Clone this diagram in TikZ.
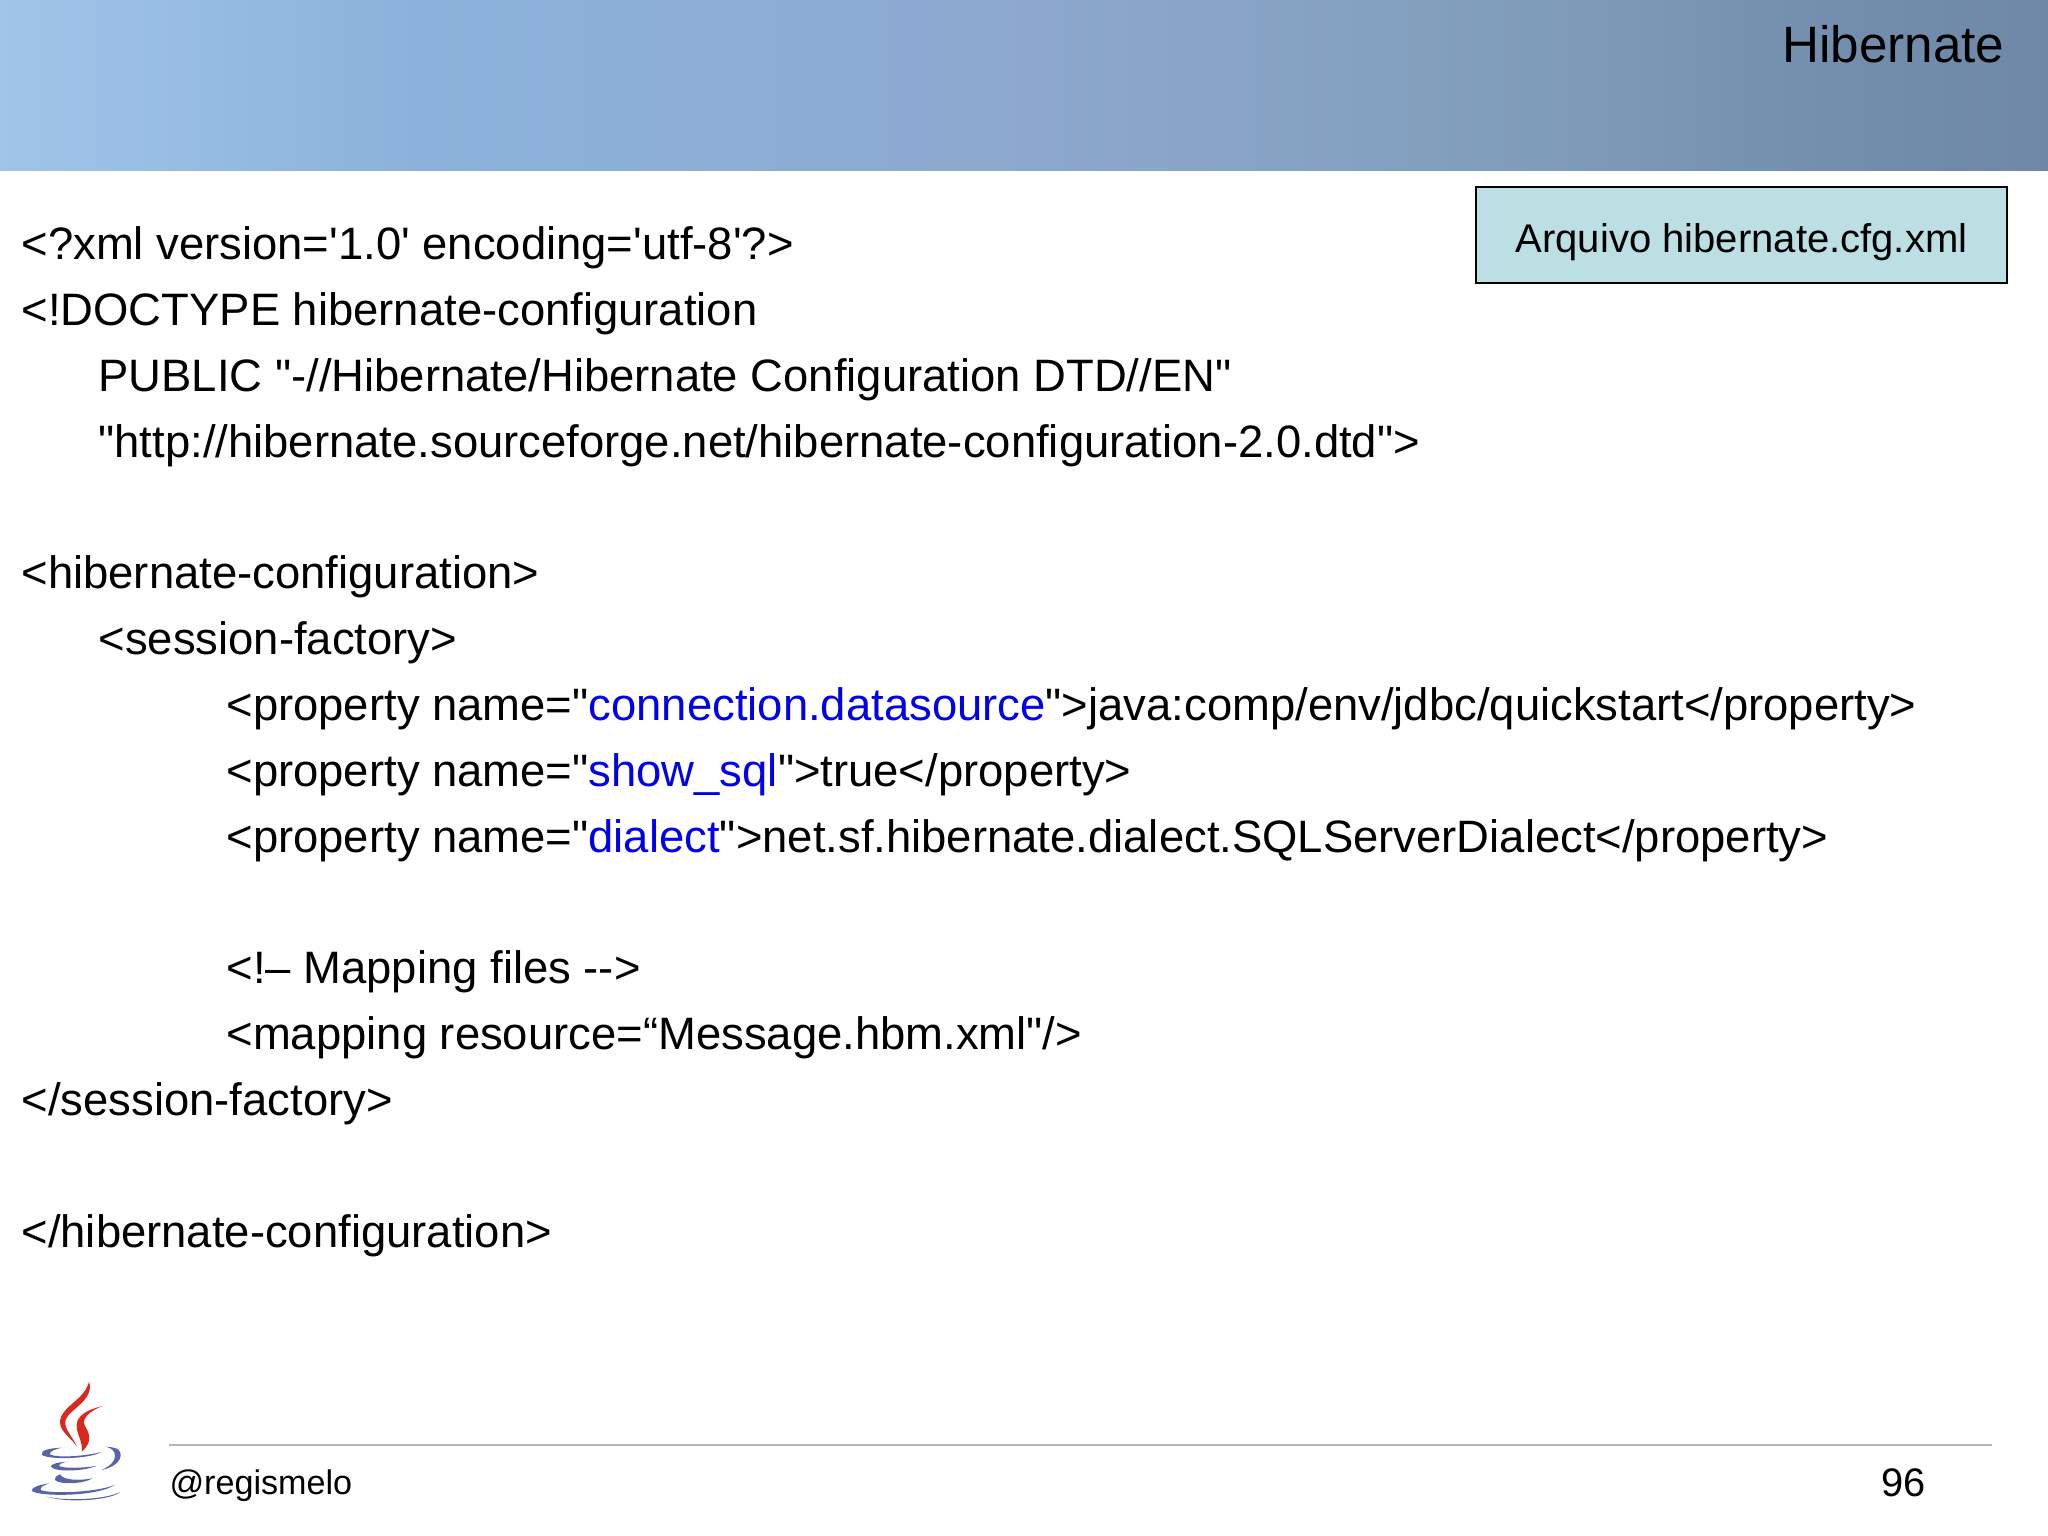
\documentclass[tikz,border=0pt]{standalone}
\usepackage{fontspec}
\setmainfont{Liberation Sans}[Ligatures=TeXOff]
\definecolor{boxfill}{RGB}{187,223,227}
\definecolor{keyblue}{RGB}{0,0,235}
\definecolor{rulegray}{RGB}{182,182,182}
\definecolor{flamered}{RGB}{218,40,28}
\definecolor{cupblue}{RGB}{88,100,165}
\pgfdeclarehorizontalshading{headshade}{100bp}{
  rgb(0bp)=(0.63,0.77,0.91);
  rgb(25bp)=(0.63,0.77,0.91);
  rgb(35bp)=(0.55,0.70,0.86);
  rgb(50bp)=(0.55,0.66,0.81);
  rgb(62bp)=(0.50,0.62,0.73);
  rgb(68bp)=(0.46,0.57,0.69);
  rgb(75bp)=(0.43,0.53,0.65);
  rgb(100bp)=(0.43,0.53,0.65)}
\tikzset{
  code/.style={anchor=base west,inner sep=0pt,font=\fontsize{15.97}{16}\selectfont},
  title/.style={anchor=base east,inner sep=0pt,font=\fontsize{18}{18}\selectfont},
  cfgbox/.style={rectangle,draw=black,fill=boxfill,line width=0.7pt,inner sep=0pt,text height=12pt,text depth=0pt,font=\fontsize{14.08}{14}\selectfont},
  foot/.style={inner sep=0pt,font=\fontsize{12}{12}\selectfont},
  flame/.style={fill=flamered,draw=none},
  cup/.style={fill=cupblue,draw=none}
}
\newcommand{\key}[1]{\textcolor{keyblue}{#1}}
\begin{document}
\begin{tikzpicture}[x=0.3515625pt,y=-0.3515625pt]
      \useasboundingbox (0,0) rectangle (2048,1536);
      \shade[shading=headshade] (0,0) rectangle (2048,171);
      \node[title] at (2005,63) (title) {Hibernate};
      \node[cfgbox,minimum width=187pt,minimum height=33.6pt] at (1741.5,235) (cfg) {Arquivo hibernate.cfg.xml};
      % code lines
      \node[code] at (21,260) (l1) {<?xml version='1.0' encoding='utf-8'?>};
      \node[code] at (21,325.8) (l2) {<!DOCTYPE hibernate-configuration};
      \node[code] at (98,391.6) (l3) {PUBLIC "-//Hibernate/Hibernate Configuration DTD//EN"};
      \node[code] at (98,457.4) (l4) {"http://hibernate.sourceforge.net/hibernate-configuration-2.0.dtd">};
      \node[code] at (21,589) (l5) {<hibernate-configuration>};
      \node[code] at (98,654.8) (l6) {<session-factory>};
      \node[code] at (226,720.6) (l7) {<property name="\key{connection.datasource}">java:comp/env/jdbc/quickstart</property>};
      \node[code] at (226,786.4) (l8) {<property name="\key{show\_sql}">true</property>};
      \node[code] at (226,852.2) (l9) {<property name="\key{dialect}">net.sf.hibernate.dialect.SQLServerDialect</property>};
      \node[code] at (226,983.8) (l10) {<!– Mapping files -->};
      \node[code] at (226,1049.6) (l11) {<mapping resource=“Message.hbm.xml"/>};
      \node[code] at (21,1115.4) (l12) {</session-factory>};
      \node[code] at (21,1247) (l13) {</hibernate-configuration>};
      % footer
      \coordinate (ruleL) at (169,1445);
      \coordinate (ruleR) at (1992,1445);
      \draw[rulegray,line width=0.9pt] (ruleL) -- (ruleR);
      \node[foot,anchor=base west] at (169,1494) (author) {@regismelo};
      \node[foot,anchor=base east,font=\fontsize{14}{14}\selectfont] at (1926,1496) (page) {96};
      % java logo
      \begin{scope}[shift={(0,1360)},x=0.1171875pt,y=-0.1171875pt]
        \fill[flame] (267,65) .. controls (255,120) and (180,140) .. (180,188)
          .. controls (180,215) and (220,240) .. (232,262)
          .. controls (215,225) and (190,205) .. (197,180)
          .. controls (205,150) and (285,120) .. (267,65) -- cycle;
        \fill[flame] (308,138) .. controls (265,148) and (230,165) .. (230,197)
          .. controls (230,225) and (250,245) .. (245,275)
          .. controls (275,250) and (272,225) .. (256,200)
          .. controls (240,175) and (275,150) .. (308,138) -- cycle;
        \fill[cup] (185,263) .. controls (140,265) and (125,272) .. (125,283)
          .. controls (135,300) and (270,298) .. (303,276)
          .. controls (260,288) and (170,295) .. (150,283)
          .. controls (148,273) and (165,268) .. (185,263) -- cycle;
        \fill[cup] (318,260) .. controls (360,262) and (362,275) .. (362,287)
          .. controls (360,310) and (330,325) .. (305,330)
          .. controls (330,318) and (345,305) .. (345,288)
          .. controls (345,272) and (335,265) .. (318,260) -- cycle;
        \fill[cup] (200,305) .. controls (170,308) and (152,312) .. (153,320)
          .. controls (160,336) and (250,335) .. (288,318)
          .. controls (250,324) and (190,326) .. (178,318)
          .. controls (176,313) and (185,309) .. (200,305) -- cycle;
        \fill[cup] (180,343) .. controls (168,348) and (162,354) .. (165,360)
          .. controls (180,375) and (250,372) .. (278,355)
          .. controls (240,362) and (190,362) .. (180,343) -- cycle;
        \fill[cup] (148,370) .. controls (115,375) and (95,382) .. (95,392)
          .. controls (110,410) and (290,412) .. (346,374)
          .. controls (290,398) and (150,402) .. (122,390)
          .. controls (120,382) and (130,376) .. (148,370) -- cycle;
        \fill[cup] (140,410) .. controls (200,424) and (320,418) .. (360,396)
          .. controls (340,418) and (210,432) .. (140,410) -- cycle;
      \end{scope}
\end{tikzpicture}
\end{document}
